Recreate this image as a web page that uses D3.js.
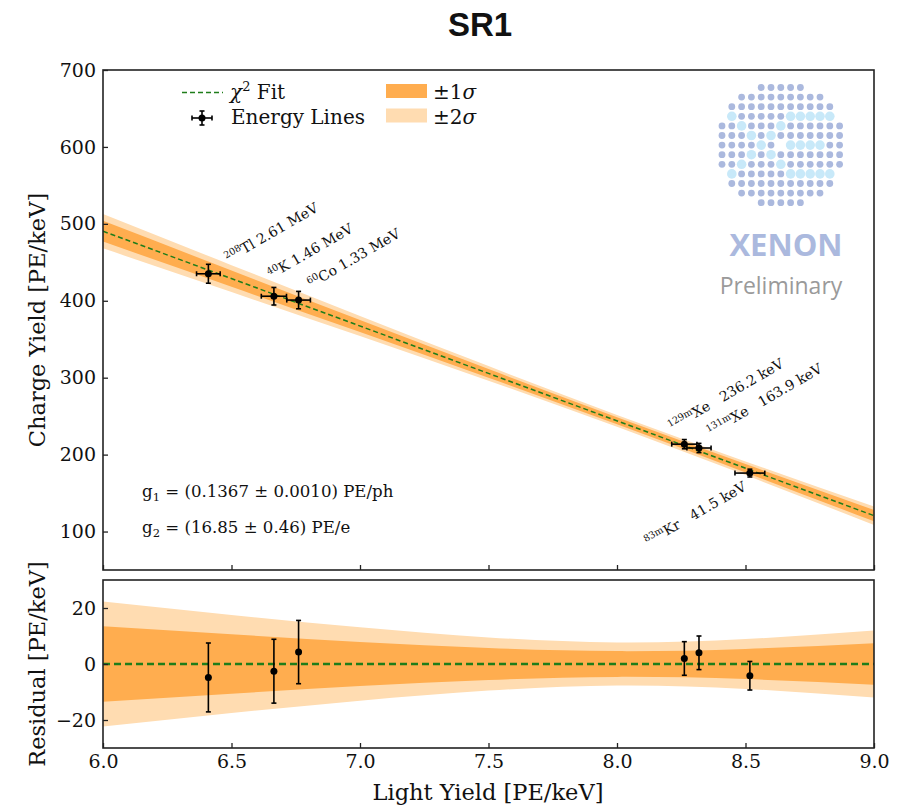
<!DOCTYPE html>
<html>
<head>
<meta charset="utf-8">
<script src="https://cdn.jsdelivr.net/npm/d3@7"></script>
<style>
  body { margin: 0; background: #fff; }
  text { font-family: "DejaVu Serif", serif; fill: #111; }
</style>
</head>
<body>
<svg id="chart" width="899" height="807"></svg>
<script>
// ---- data ----
var isotopes     = ["208", "40", "60", "129m", "131m", "83m"];
var elements     = ["Tl", "K", "Co", "Xe", "Xe", "Kr"];
var energies     = ["2.61 MeV", "1.46 MeV", "1.33 MeV", "236.2 keV", "163.9 keV", "41.5 keV"];
var lightYield   = [6.410, 6.665, 6.761, 8.262, 8.319, 8.517];
var lightErr     = [0.046, 0.049, 0.046, 0.049, 0.047, 0.058];
var chargeYield  = [435.1, 405.9, 400.9, 213.6, 208.6, 176.0];
var chargeErr    = [12.3, 11.4, 11.3, 6.0, 6.0, 5.1];

// chi2 fit line CY = a + b * LY
var fitIntercept = 1230.0;
var fitSlope = -123.26;

// half widths of the confidence bands
var bandX  = [6.0, 6.5, 7.0, 7.5, 8.0, 8.5, 9.0];
var band1  = [13.5, 10.6, 7.9, 5.7, 4.6, 5.4, 7.4];
var band2  = [22.3, 17.5, 13.1, 9.5, 7.7, 8.9, 12.0];

var xTicks     = [6.0, 6.5, 7.0, 7.5, 8.0, 8.5, 9.0];
var yTicksMain = [100, 200, 300, 400, 500, 600, 700];
var yTicksRes  = [-20, 0, 20];

// ---- layout ----
var svg = d3.select("#chart");
var left = 103, right = 874;
var mainTop = 70, mainBottom = 570;
var resTop = 580, resBottom = 748;

var x = d3.scaleLinear().domain([6, 9]).range([left, right]);
var y = d3.scaleLinear().domain([50, 700]).range([mainBottom, mainTop]);
var yr = d3.scaleLinear().domain([-30, 30]).range([resBottom, resTop]);

var fit = function(lx) { return fitIntercept + fitSlope * lx; };

var c1 = "#ffad4f", c2 = "#ffdcb1", green = "#1f7d1a";

svg.append("text")
    .attr("x", 480).attr("y", 36)
    .attr("text-anchor", "middle")
    .style("font-family", "'Liberation Sans', Arial, sans-serif")
    .style("font-weight", "bold")
    .style("font-size", "33px")
    .text("SR1");

// clip paths for the two panels
var defs = svg.append("defs");
defs.append("clipPath").attr("id", "clipMain").append("rect")
    .attr("x", left).attr("y", mainTop).attr("width", right - left).attr("height", mainBottom - mainTop);
defs.append("clipPath").attr("id", "clipRes").append("rect")
    .attr("x", left).attr("y", resTop).attr("width", right - left).attr("height", resBottom - resTop);

// ---- main panel ----
var gMain = svg.append("g").attr("clip-path", "url(#clipMain)");

function bandArea(widths, yScale, centre) {
    return d3.area()
        .curve(d3.curveNatural)
        .x(function(d, i) { return x(bandX[i]); })
        .y0(function(d, i) { return yScale(centre(bandX[i]) - widths[i]); })
        .y1(function(d, i) { return yScale(centre(bandX[i]) + widths[i]); });
}

gMain.append("path").attr("d", bandArea(band2, y, fit)(bandX)).attr("fill", c2);
gMain.append("path").attr("d", bandArea(band1, y, fit)(bandX)).attr("fill", c1);
gMain.append("line")
    .attr("x1", x(6)).attr("y1", y(fit(6)))
    .attr("x2", x(9)).attr("y2", y(fit(9)))
    .attr("stroke", green).attr("stroke-width", 1.5)
    .attr("stroke-dasharray", "5,3");

function drawPoints(g, yScale, yval) {
    lightYield.forEach(function(lx, i) {
        var cx = x(lx), cy = yScale(yval(i));
        var yTop = yScale(yval(i) + chargeErr[i]), yBot = yScale(yval(i) - chargeErr[i]);
        var xl = x(lx - lightErr[i]), xrr = x(lx + lightErr[i]);
        var p = g.append("g").attr("stroke", "#000").attr("stroke-width", 1.6);
        p.append("line").attr("x1", cx).attr("x2", cx).attr("y1", yTop).attr("y2", yBot);
        p.append("line").attr("x1", cx - 2.5).attr("x2", cx + 2.5).attr("y1", yTop).attr("y2", yTop);
        p.append("line").attr("x1", cx - 2.5).attr("x2", cx + 2.5).attr("y1", yBot).attr("y2", yBot);
        if (g === gMain) {
            p.append("line").attr("x1", xl).attr("x2", xrr).attr("y1", cy).attr("y2", cy);
            p.append("line").attr("x1", xl).attr("x2", xl).attr("y1", cy - 2.5).attr("y2", cy + 2.5);
            p.append("line").attr("x1", xrr).attr("x2", xrr).attr("y1", cy - 2.5).attr("y2", cy + 2.5);
        }
        g.append("circle").attr("cx", cx).attr("cy", cy).attr("r", 3.5).attr("fill", "#000");
    });
}
drawPoints(gMain, y, function(i) { return chargeYield[i]; });

// isotope labels, placed in data coordinates
var labelAt = [[6.488, 449], [6.655, 428], [6.810, 416], [8.214, 230], [8.364, 223.5], [8.122, 80.5]];
var labelGap = ["\u00a0", "\u00a0", "\u00a0", "\u00a0\u00a0\u00a0", "\u00a0\u00a0\u00a0", "\u00a0\u00a0\u00a0"];
labelAt.forEach(function(pos, i) {
    var t = svg.append("text")
        .attr("transform", "translate(" + x(pos[0]) + "," + y(pos[1]) + ") rotate(-30)")
        .style("font-size", "14px");
    t.append("tspan").attr("dy", -5).style("font-size", "9.5px").text(isotopes[i]);
    t.append("tspan").attr("dy", 5).text(elements[i] + labelGap[i] + energies[i]);
});

// fit result text
var g1 = svg.append("text").attr("x", 142).attr("y", 497).style("font-size", "16.6px");
g1.append("tspan").text("g");
g1.append("tspan").attr("dy", 4).style("font-size", "11.5px").text("1");
g1.append("tspan").attr("dy", -4).text(" = (0.1367 \u00b1 0.0010) PE/ph");
var g2 = svg.append("text").attr("x", 142).attr("y", 533).style("font-size", "16.6px");
g2.append("tspan").text("g");
g2.append("tspan").attr("dy", 4).style("font-size", "11.5px").text("2");
g2.append("tspan").attr("dy", -4).text(" = (16.85 \u00b1 0.46) PE/e");

// legend
var lg = svg.append("g").style("font-size", "20px");
lg.append("line").attr("x1", 182).attr("x2", 223).attr("y1", 92.5).attr("y2", 92.5)
    .attr("stroke", green).attr("stroke-width", 1.5).attr("stroke-dasharray", "5,3");
var lt = lg.append("text").attr("x", 230).attr("y", 99);
lt.append("tspan").style("font-style", "italic").text("\u03c7");
lt.append("tspan").attr("dy", -8).style("font-size", "13px").text("2");
lt.append("tspan").attr("dy", 8).text(" Fit");
var le = lg.append("g").attr("stroke", "#000").attr("stroke-width", 1.6);
le.append("line").attr("x1", 192).attr("x2", 212).attr("y1", 118).attr("y2", 118);
le.append("line").attr("x1", 202).attr("x2", 202).attr("y1", 111).attr("y2", 125);
le.append("line").attr("x1", 192).attr("x2", 192).attr("y1", 115.5).attr("y2", 120.5);
le.append("line").attr("x1", 212).attr("x2", 212).attr("y1", 115.5).attr("y2", 120.5);
le.append("line").attr("x1", 199.5).attr("x2", 204.5).attr("y1", 111).attr("y2", 111);
le.append("line").attr("x1", 199.5).attr("x2", 204.5).attr("y1", 125).attr("y2", 125);
lg.append("circle").attr("cx", 202).attr("cy", 118).attr("r", 3.5);
lg.append("text").attr("x", 231).attr("y", 124).text("Energy Lines");
lg.append("rect").attr("x", 386).attr("y", 84).attr("width", 41).attr("height", 14).attr("fill", c1);
lg.append("rect").attr("x", 386).attr("y", 108.5).attr("width", 41).attr("height", 14).attr("fill", c2);
var s1 = lg.append("text").attr("x", 433).attr("y", 99);
s1.append("tspan").text("\u00b11");
s1.append("tspan").style("font-style", "italic").text("\u03c3");
var s2 = lg.append("text").attr("x", 433).attr("y", 124);
s2.append("tspan").text("\u00b12");
s2.append("tspan").style("font-style", "italic").text("\u03c3");

// XENON logo
var logoRows = [5, 9, 11, 11, 13, 13, 13, 13, 13, 11, 11, 9, 5];
var lightDots = {
    "3": [1, 7, 8, 9, 10, 11], "4": [2, 6], "5": [3, 5], "6": [4, 7, 8, 9, 10],
    "7": [3, 5], "8": [2, 6], "9": [1, 7, 8, 9, 10, 11]
};
var logo = svg.append("g");
logoRows.forEach(function(n, r) {
    for (var k = 0; k < n; k++) {
        var c = k + (13 - n) / 2;
        if (r === 6 && c === 6) continue;
        var isLight = (lightDots[r] || []).indexOf(c) >= 0;
        logo.append("circle")
            .attr("cx", 722 + c * 9.8).attr("cy", 87.5 + r * 9.6)
            .attr("r", isLight ? 4.8 : 3.4)
            .attr("fill", isLight ? "#c8e9f9" : "#abb9de");
    }
});
svg.append("text").attr("x", 786).attr("y", 256)
    .attr("text-anchor", "middle")
    .style("font-family", "'Open Sans', sans-serif").style("font-weight", "bold")
    .style("font-size", "31px").style("fill", "#abb9de")
    .text("XENON");
svg.append("text").attr("x", 781).attr("y", 294)
    .attr("text-anchor", "middle")
    .style("font-family", "'Open Sans', sans-serif")
    .style("font-size", "23px").style("fill", "#9a9a9a")
    .text("Preliminary");

// ---- residual panel ----
var gRes = svg.append("g").attr("clip-path", "url(#clipRes)");
var zero = function() { return 0; };
gRes.append("path").attr("d", bandArea(band2, yr, zero)(bandX)).attr("fill", c2);
gRes.append("path").attr("d", bandArea(band1, yr, zero)(bandX)).attr("fill", c1);
gRes.append("line")
    .attr("x1", left).attr("x2", right).attr("y1", yr(0)).attr("y2", yr(0))
    .attr("stroke", green).attr("stroke-width", 2.5).attr("stroke-dasharray", "7,4");
drawPoints(gRes, yr, function(i) { return chargeYield[i] - fit(lightYield[i]); });

// ---- axes ----
function styleAxis(g) {
    g.select(".domain").remove();
    g.selectAll(".tick line").attr("stroke", "#222").attr("stroke-width", 1.3);
    g.selectAll(".tick text").style("font-family", "'DejaVu Serif', serif").style("font-size", "19px").attr("fill", "#111");
}
svg.append("g").attr("transform", "translate(" + left + ",0)")
    .call(d3.axisLeft(y).tickValues(yTicksMain).tickSizeInner(-5).tickSizeOuter(0).tickPadding(7).tickFormat(d3.format("d")))
    .call(styleAxis);
svg.append("g").attr("transform", "translate(0," + mainBottom + ")")
    .call(d3.axisBottom(x).tickValues(xTicks).tickSizeInner(-5).tickSizeOuter(0).tickFormat(""))
    .call(styleAxis);
svg.append("g").attr("transform", "translate(" + left + ",0)")
    .call(d3.axisLeft(yr).tickValues(yTicksRes).tickSizeInner(-5).tickSizeOuter(0).tickPadding(7)
        .tickFormat(function(d) { return d < 0 ? "\u2212" + Math.abs(d) : d; }))
    .call(styleAxis);
svg.append("g").attr("transform", "translate(0," + resBottom + ")")
    .call(d3.axisBottom(x).tickValues(xTicks).tickSizeInner(-5).tickSizeOuter(0).tickPadding(7).tickFormat(d3.format(".1f")))
    .call(styleAxis);

// frames
[[mainTop, mainBottom], [resTop, resBottom]].forEach(function(p) {
    svg.append("rect").attr("x", left).attr("y", p[0])
        .attr("width", right - left).attr("height", p[1] - p[0])
        .attr("fill", "none").attr("stroke", "#222").attr("stroke-width", 1.6);
});

// axis labels
svg.append("text").attr("transform", "translate(45,320) rotate(-90)")
    .attr("text-anchor", "middle").style("font-size", "22.5px").text("Charge Yield [PE/keV]");
svg.append("text").attr("transform", "translate(45,664) rotate(-90)")
    .attr("text-anchor", "middle").style("font-size", "22.5px").text("Residual [PE/keV]");
svg.append("text").attr("x", 488).attr("y", 800)
    .attr("text-anchor", "middle").style("font-size", "22.5px").text("Light Yield [PE/keV]");
</script>
</body>
</html>
